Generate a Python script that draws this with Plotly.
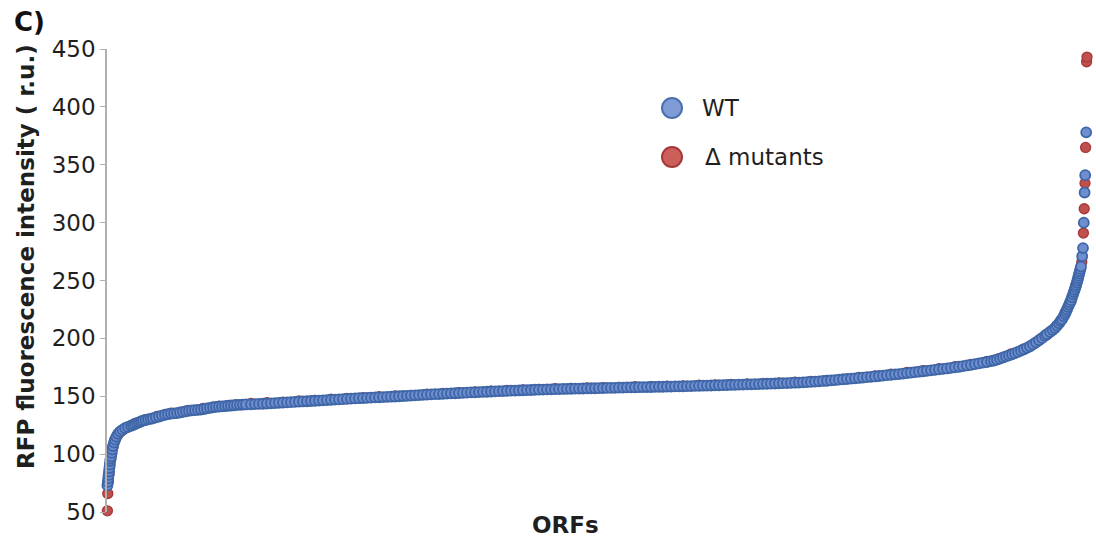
import plotly.graph_objects as go

# ORF rank (sorted) and RFP intensity, WT
wt_rank = [2, 4, 6, 8, 10, 12, 14, 16, 18, 20, 23, 26, 30, 35, 40, 47, 55, 65, 77, 90,
           105, 120, 130, 140, 150, 160, 170, 180, 192, 205, 218, 230, 245, 260, 275, 290,
           305, 320, 335, 350, 365, 380, 395, 410, 425, 440, 455, 470, 485, 500, 515, 530,
           545, 560, 575, 590, 605, 620, 635, 650, 665, 680, 695,
           720, 740, 760, 780, 800, 820, 840, 860, 880, 900, 920, 940, 960,
           980, 1000, 1020, 1040, 1060, 1080, 1100, 1120, 1140, 1160, 1180, 1200, 1220,
           1240, 1260, 1280, 1300, 1320, 1340, 1360, 1380, 1400, 1420, 1440, 1460,
           1480, 1500, 1520, 1540, 1560, 1580, 1600, 1620, 1640, 1660, 1680, 1700, 1720,
           1740, 1760, 1780, 1800, 1820, 1840, 1860, 1880, 1900, 1920, 1940, 1960,
           1980, 2000, 2020, 2040, 2060, 2080, 2100, 2120, 2140, 2160, 2180, 2200, 2220,
           2240, 2260, 2280, 2300, 2320, 2340, 2360, 2380, 2400, 2420, 2440, 2460,
           2480, 2500, 2520, 2540, 2560, 2580, 2600, 2620, 2640, 2660, 2680, 2700, 2720,
           2740, 2760, 2780, 2800, 2820, 2840, 2860, 2880, 2900, 2920, 2940, 2960,
           2980, 3000, 3020, 3040, 3060, 3080, 3100, 3120, 3140, 3160, 3180, 3200, 3220,
           3240, 3260, 3280, 3300, 3320, 3340, 3360, 3380, 3400, 3420, 3440, 3460,
           3480, 3500, 3520, 3540, 3560, 3580, 3600, 3620, 3640, 3660, 3680, 3700, 3720,
           3740, 3760, 3780, 3800, 3820, 3840, 3860, 3880, 3900, 3920, 3940, 3960,
           3980, 4000, 4020, 4040, 4060, 4080, 4100, 4120, 4140, 4160, 4180, 4200, 4220,
           4240, 4260, 4280, 4300, 4320, 4340, 4360, 4380, 4400, 4420,
           4435, 4450, 4465, 4480, 4495, 4510, 4525, 4540, 4555, 4570, 4585, 4600, 4615,
           4630, 4645, 4660, 4675, 4690, 4700, 4715, 4728, 4740, 4750, 4760, 4768, 4775,
           4783, 4790, 4795, 4800, 4805, 4810, 4815, 4820, 4825, 4830, 4834, 4838, 4842,
           4845, 4849, 4852, 4855, 4858, 4861, 4864, 4867, 4870, 4876, 4880, 4884, 4888,
           4891, 4896]
wt_value = [73, 76, 79, 82, 85, 88, 91, 94, 96, 98, 101, 104, 107, 110, 112.5, 115, 117.5,
            119.5, 121, 122.5,
            123.5, 124.5, 125.2, 126, 126.8, 127.5, 128.2, 129, 129.5, 130, 130.5, 131, 131.8,
            132.5, 133.3, 134, 134.5, 135, 135.2, 135.5, 136, 136.5, 137, 137.5, 137.8, 138,
            138.2, 138.5, 139, 139.5, 140, 140.5, 140.8, 141, 141.2, 141.5, 141.8, 142, 142.2,
            142.5, 142.6, 142.8, 142.9,
            143.0, 143.2, 143.4, 143.5, 143.7, 143.9, 144.1, 144.3, 144.5, 144.7, 144.9,
            145.1, 145.3,
            145.5, 145.7, 145.9, 146.1, 146.3, 146.5, 146.7, 146.9, 147.1, 147.3, 147.5,
            147.7, 147.9, 148.1, 148.3, 148.4, 148.6, 148.8, 149.0, 149.1, 149.3, 149.5,
            149.6, 149.8, 150.0,
            150.2, 150.4, 150.6, 150.8, 151.0, 151.2, 151.4, 151.6, 151.8, 151.9, 152.1,
            152.3, 152.5, 152.6, 152.8, 152.9, 153.1, 153.3, 153.4, 153.6, 153.8, 153.9,
            154.1, 154.2, 154.4,
            154.5, 154.6, 154.8, 154.9, 155.0, 155.2, 155.3, 155.4, 155.6, 155.7, 155.8,
            155.9, 156.0, 156.1, 156.2, 156.3, 156.4, 156.5, 156.6, 156.6, 156.7, 156.8,
            156.9, 156.9, 157.0,
            157.1, 157.2, 157.2, 157.3, 157.4, 157.5, 157.6, 157.6, 157.7, 157.8, 157.9,
            157.9, 158.0, 158.1, 158.2, 158.2, 158.3, 158.4, 158.5, 158.6, 158.6, 158.7,
            158.8, 158.9, 159.0,
            159.1, 159.2, 159.3, 159.4, 159.5, 159.6, 159.7, 159.8, 159.9, 160.0, 160.1,
            160.2, 160.3, 160.4, 160.5, 160.7, 160.8, 160.9, 161.0, 161.2, 161.3, 161.4,
            161.6, 161.7, 161.8,
            162.0, 162.2, 162.4, 162.7, 162.9, 163.2, 163.4, 163.7, 164.0, 164.3, 164.6,
            164.9, 165.2, 165.5, 165.8, 166.1, 166.5, 166.8, 167.1, 167.5, 167.8, 168.2,
            168.5, 168.9, 169.2,
            169.6, 170.0, 170.4, 170.8, 171.2, 171.6, 172.0, 172.4, 172.8, 173.2, 173.6,
            174.0, 174.5, 175.0, 175.5, 176.0, 176.6, 177.1, 177.7, 178.4, 179.0, 179.6,
            180.3,
            180.9, 181.6, 182.5, 183.5, 184.4, 185.3, 186.2, 187.2, 188.3, 189.4, 190.6,
            191.8, 193.2, 194.8, 196.5, 198.4, 200.3, 202.3, 203.6, 205.5, 207.2, 209.0,
            211, 213, 215, 216.5, 219, 221, 223, 225, 227, 229, 231, 233, 235.5, 238, 240,
            242, 244, 246, 248, 250, 252, 254, 256, 258, 260, 262, 271, 278, 300, 326, 341,
            378]

# ORF rank (sorted) and RFP intensity, deletion mutants
mut_rank = [2, 4, 7, 10, 14, 18, 23, 30, 40, 55, 75, 100, 140, 190, 250, 320, 400, 480,
            560, 640, 720, 800, 880, 960, 1040, 1120, 1200, 1280, 1360, 1440, 1520, 1600,
            1680, 1760, 1840, 1920, 2000, 2080, 2160, 2240, 2320, 2400, 2480, 2560, 2640,
            2720, 2800, 2880, 2960, 3040, 3120, 3200, 3280, 3360, 3440, 3520, 3600, 3680,
            3760, 3840, 3920, 4000, 4080, 4160, 4240, 4320, 4400, 4460, 4520, 4580, 4640,
            4700, 4750, 4790, 4820, 4845, 4862, 4874, 4882, 4886, 4890, 4893, 4898, 4900]
mut_value = [51, 66, 76, 83, 90, 95, 100, 106, 112, 117, 120.5, 123, 126.5, 129.5, 132.5,
             135.5, 137.5, 139.5, 141.5, 142.5, 143.8, 144.5, 145, 146, 146.5, 147.5, 148.2,
             148.8, 149.6, 150.3, 150.8, 151.8, 152.5, 153.2, 153.8, 154.5, 155.0, 155.5,
             156.0, 156.6, 156.8, 157.2, 157.5, 157.6, 158.2, 158.4, 158.8, 159.0, 159.5,
             159.7, 160.2, 160.6, 161.0, 161.6, 162.2, 162.9, 163.8, 164.8, 166.3, 167.6,
             169.0, 170.6, 172.2, 173.8, 175.5, 177.5, 180.0, 182.5, 186.5, 190.5, 196,
             203.5, 211, 222, 232, 246, 257, 266, 291, 312, 334, 365, 439, 443]

y_ticks = [50, 100, 150, 200, 250, 300, 350, 400, 450]
series_names = ["WT", "\u0394 mutants"]

FONT = "DejaVu Sans, sans-serif"
TXT = "#1f1f1f"
W, H = 1096, 543
L, R, T, B = 107, 3, 49, 31


def px(x):
    return (x - L) / (W - L - R)


def py(y):
    return (H - B - y) / (H - T - B)


fig = go.Figure()
fig.add_trace(go.Scatter(
    x=mut_rank, y=mut_value, mode="markers", name=series_names[1], cliponaxis=False,
    marker=dict(size=10, color="#C0504D", line=dict(color="#A5393A", width=1.3)),
))
fig.add_trace(go.Scatter(
    x=wt_rank, y=wt_value, mode="markers", name=series_names[0], cliponaxis=False,
    marker=dict(size=10, color="#6E8ED0", line=dict(color="#3E66A7", width=1.8)),
))

legend_items = [(108, "#7F9CD6", "#4A70AE", series_names[0], 700),
                (157, "#CD5F5B", "#A5393A", series_names[1], 703)]
shapes = []
annotations = []
for cy, fill, edge, label, tx in legend_items:
    shapes.append(dict(type="circle", xref="paper", yref="paper",
                       x0=px(662), x1=px(682), y0=py(cy + 10), y1=py(cy - 10),
                       fillcolor=fill, line=dict(color=edge, width=2)))
    annotations.append(dict(text=label, xref="paper", yref="paper", x=px(tx), y=py(cy),
                            xanchor="left", yanchor="middle", showarrow=False,
                            font=dict(size=23, color=TXT)))

annotations += [
    dict(text="<b>C)</b>", xref="paper", yref="paper", x=px(12), y=py(22),
         xanchor="left", yanchor="middle", showarrow=False,
         font=dict(size=26, color="#111111")),
    dict(text="<b>RFP fluorescence intensity ( r.u.)</b>", xref="paper", yref="paper",
         x=px(26), y=py(257), xanchor="center", yanchor="middle", textangle=-90,
         showarrow=False, font=dict(size=23, color=TXT)),
    dict(text="<b>ORFs</b>", xref="paper", yref="paper", x=px(565), y=py(525),
         xanchor="center", yanchor="middle", showarrow=False,
         font=dict(size=23, color=TXT)),
]

fig.update_layout(
    width=W, height=H,
    margin=dict(l=L, r=R, t=T, b=B),
    plot_bgcolor="white", paper_bgcolor="white",
    font=dict(family=FONT, color=TXT),
    showlegend=False,
    xaxis=dict(range=[0, 4930], showline=False, showticklabels=False, ticks="",
               showgrid=False, zeroline=False),
    yaxis=dict(range=[50, 450], tickvals=y_ticks, showline=True, linecolor="#B0B0B0",
               linewidth=1.5, ticks="outside", ticklen=5, tickcolor="#B0B0B0",
               showgrid=False, zeroline=False, tickfont=dict(size=23, color=TXT)),
    shapes=shapes,
    annotations=annotations,
)

fig.write_html("out.html")
